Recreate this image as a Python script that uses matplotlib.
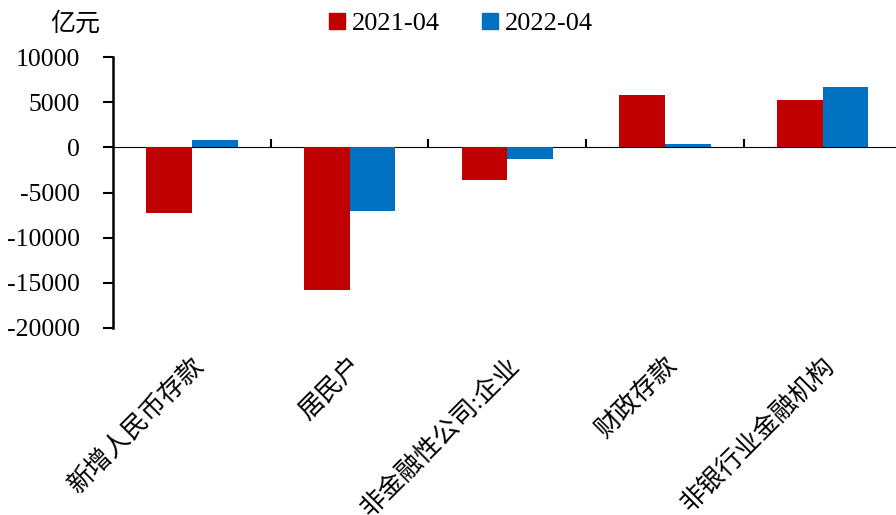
import numpy as np
import matplotlib
matplotlib.use("Agg")
import matplotlib.pyplot as plt
from matplotlib.patches import Patch

categories = ["新增人民币存款", "居民户", "非金融性公司:企业", "财政存款", "非银行业金融机构"]
series_names = ["2021-04", "2022-04"]
vals_2021 = [-7270, -15760, -3580, 5830, 5280]
vals_2022 = [850, -7090, -1250, 410, 6720]
y_ticks = [10000, 5000, 0, -5000, -10000, -15000, -20000]

RED = "#C00000"
BLUE = "#0070C0"

plt.rcParams["font.family"] = ["Liberation Serif", "Noto Sans CJK SC"]

fig = plt.figure(figsize=(8.96, 5.15), dpi=100)
ax = fig.add_axes([113 / 896, 1 - 328 / 515, (896 - 113) / 896, (328 - 57) / 515])

x = np.arange(len(categories))
w = 0.29
ax.bar(x - w / 2, vals_2021, w, color=RED, edgecolor="none")
ax.bar(x + w / 2, vals_2022, w, color=BLUE, edgecolor="none")

ax.set_xlim(-0.5, 4.465)
ax.set_ylim(-20000, 10000)
ax.set_yticks(y_ticks)
ax.set_yticklabels([str(v) for v in y_ticks], fontsize=18.5)
ax.tick_params(axis="y", direction="out", length=7, width=1.5, pad=17)

for s in ["top", "right", "bottom"]:
    ax.spines[s].set_visible(False)
ax.spines["left"].set_linewidth(1.8)

# category labels under the plot, no tick marks
ax.set_xticks(x)
ax.set_xticklabels(categories, rotation=45, ha="right", va="top",
                   rotation_mode="anchor", fontsize=18.5)
ax.tick_params(axis="x", length=0, pad=18)

# zero line with boundary ticks
zero_frac = (0 - (-20000)) / 30000
sec = ax.secondary_xaxis(zero_frac)
sec.set_xticks(np.arange(len(categories)) + 0.5)
sec.set_xticklabels([])
sec.tick_params(direction="out", length=6, width=1.5)
sec.spines["bottom"].set_linewidth(1.8)

fig.text(50 / 896, 1 - 24 / 515, "亿元", fontsize=18, va="center", ha="left")

handles = [Patch(color=RED), Patch(color=BLUE)]
fig.legend(handles, series_names, loc="center", bbox_to_anchor=(461 / 896, 1 - 24 / 515),
           ncol=2, frameon=False, fontsize=19, handlelength=0.6, handleheight=0.6,
           handletextpad=0.25, columnspacing=1.6)

fig.savefig("out.png", dpi=100)
